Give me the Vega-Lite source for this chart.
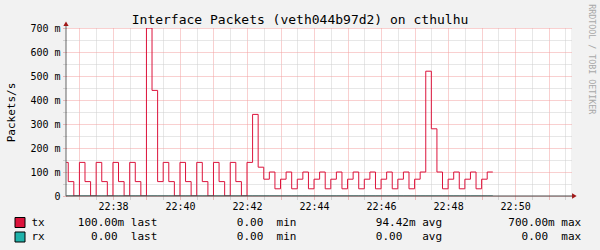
{
  "$schema": "https://vega.github.io/schema/vega-lite/v6.json",
  "width": 505,
  "height": 168,
  "autosize": {"type": "none"},
  "padding": {"left": 66, "top": 28, "right": 29, "bottom": 54},
  "background": "#F2F2F2",
  "title": {"text": "Interface Packets (veth044b97d2) on cthulhu", "font": "DejaVu Sans Mono", "fontSize": 13, "fontWeight": "normal", "color": "#000000", "anchor": "middle", "frame": "group", "dx": -18.5, "dy": 37, "baseline": "alphabetic", "offset": 4},
  "config": {
    "view": {"fill": "#FFFFFF", "stroke": null},
    "font": "DejaVu Sans Mono"
  },
  "data": {"values": [
    {"time": "2024-01-01T22:36:30Z", "tx": 0.14, "rx": 0},
    {"time": "2024-01-01T22:36:40Z", "tx": 0.06, "rx": 0},
    {"time": "2024-01-01T22:36:50Z", "tx": 0, "rx": 0},
    {"time": "2024-01-01T22:37:00Z", "tx": 0.14, "rx": 0},
    {"time": "2024-01-01T22:37:10Z", "tx": 0.06, "rx": 0},
    {"time": "2024-01-01T22:37:20Z", "tx": 0, "rx": 0},
    {"time": "2024-01-01T22:37:30Z", "tx": 0.14, "rx": 0},
    {"time": "2024-01-01T22:37:40Z", "tx": 0.06, "rx": 0},
    {"time": "2024-01-01T22:37:50Z", "tx": 0, "rx": 0},
    {"time": "2024-01-01T22:38:00Z", "tx": 0.14, "rx": 0},
    {"time": "2024-01-01T22:38:10Z", "tx": 0.06, "rx": 0},
    {"time": "2024-01-01T22:38:20Z", "tx": 0, "rx": 0},
    {"time": "2024-01-01T22:38:30Z", "tx": 0.14, "rx": 0},
    {"time": "2024-01-01T22:38:40Z", "tx": 0.06, "rx": 0},
    {"time": "2024-01-01T22:38:50Z", "tx": 0, "rx": 0},
    {"time": "2024-01-01T22:39:00Z", "tx": 0.70, "rx": 0},
    {"time": "2024-01-01T22:39:10Z", "tx": 0.44, "rx": 0},
    {"time": "2024-01-01T22:39:20Z", "tx": 0.06, "rx": 0},
    {"time": "2024-01-01T22:39:30Z", "tx": 0.14, "rx": 0},
    {"time": "2024-01-01T22:39:40Z", "tx": 0.06, "rx": 0},
    {"time": "2024-01-01T22:39:50Z", "tx": 0, "rx": 0},
    {"time": "2024-01-01T22:40:00Z", "tx": 0.14, "rx": 0},
    {"time": "2024-01-01T22:40:10Z", "tx": 0.06, "rx": 0},
    {"time": "2024-01-01T22:40:20Z", "tx": 0, "rx": 0},
    {"time": "2024-01-01T22:40:30Z", "tx": 0.14, "rx": 0},
    {"time": "2024-01-01T22:40:40Z", "tx": 0.06, "rx": 0},
    {"time": "2024-01-01T22:40:50Z", "tx": 0, "rx": 0},
    {"time": "2024-01-01T22:41:00Z", "tx": 0.14, "rx": 0},
    {"time": "2024-01-01T22:41:10Z", "tx": 0.06, "rx": 0},
    {"time": "2024-01-01T22:41:20Z", "tx": 0, "rx": 0},
    {"time": "2024-01-01T22:41:30Z", "tx": 0.14, "rx": 0},
    {"time": "2024-01-01T22:41:40Z", "tx": 0.06, "rx": 0},
    {"time": "2024-01-01T22:41:50Z", "tx": 0, "rx": 0},
    {"time": "2024-01-01T22:42:00Z", "tx": 0.14, "rx": 0},
    {"time": "2024-01-01T22:42:10Z", "tx": 0.34, "rx": 0},
    {"time": "2024-01-01T22:42:20Z", "tx": 0.12, "rx": 0},
    {"time": "2024-01-01T22:42:30Z", "tx": 0.07, "rx": 0},
    {"time": "2024-01-01T22:42:40Z", "tx": 0.10, "rx": 0},
    {"time": "2024-01-01T22:42:50Z", "tx": 0.03, "rx": 0},
    {"time": "2024-01-01T22:43:00Z", "tx": 0.07, "rx": 0},
    {"time": "2024-01-01T22:43:10Z", "tx": 0.10, "rx": 0},
    {"time": "2024-01-01T22:43:20Z", "tx": 0.03, "rx": 0},
    {"time": "2024-01-01T22:43:30Z", "tx": 0.07, "rx": 0},
    {"time": "2024-01-01T22:43:40Z", "tx": 0.10, "rx": 0},
    {"time": "2024-01-01T22:43:50Z", "tx": 0.03, "rx": 0},
    {"time": "2024-01-01T22:44:00Z", "tx": 0.07, "rx": 0},
    {"time": "2024-01-01T22:44:10Z", "tx": 0.10, "rx": 0},
    {"time": "2024-01-01T22:44:20Z", "tx": 0.03, "rx": 0},
    {"time": "2024-01-01T22:44:30Z", "tx": 0.07, "rx": 0},
    {"time": "2024-01-01T22:44:40Z", "tx": 0.10, "rx": 0},
    {"time": "2024-01-01T22:44:50Z", "tx": 0.03, "rx": 0},
    {"time": "2024-01-01T22:45:00Z", "tx": 0.07, "rx": 0},
    {"time": "2024-01-01T22:45:10Z", "tx": 0.10, "rx": 0},
    {"time": "2024-01-01T22:45:20Z", "tx": 0.03, "rx": 0},
    {"time": "2024-01-01T22:45:30Z", "tx": 0.07, "rx": 0},
    {"time": "2024-01-01T22:45:40Z", "tx": 0.10, "rx": 0},
    {"time": "2024-01-01T22:45:50Z", "tx": 0.03, "rx": 0},
    {"time": "2024-01-01T22:46:00Z", "tx": 0.07, "rx": 0},
    {"time": "2024-01-01T22:46:10Z", "tx": 0.10, "rx": 0},
    {"time": "2024-01-01T22:46:20Z", "tx": 0.03, "rx": 0},
    {"time": "2024-01-01T22:46:30Z", "tx": 0.07, "rx": 0},
    {"time": "2024-01-01T22:46:40Z", "tx": 0.10, "rx": 0},
    {"time": "2024-01-01T22:46:50Z", "tx": 0.03, "rx": 0},
    {"time": "2024-01-01T22:47:00Z", "tx": 0.07, "rx": 0},
    {"time": "2024-01-01T22:47:10Z", "tx": 0.10, "rx": 0},
    {"time": "2024-01-01T22:47:20Z", "tx": 0.52, "rx": 0},
    {"time": "2024-01-01T22:47:30Z", "tx": 0.28, "rx": 0},
    {"time": "2024-01-01T22:47:40Z", "tx": 0.10, "rx": 0},
    {"time": "2024-01-01T22:47:50Z", "tx": 0.03, "rx": 0},
    {"time": "2024-01-01T22:48:00Z", "tx": 0.07, "rx": 0},
    {"time": "2024-01-01T22:48:10Z", "tx": 0.10, "rx": 0},
    {"time": "2024-01-01T22:48:20Z", "tx": 0.03, "rx": 0},
    {"time": "2024-01-01T22:48:30Z", "tx": 0.07, "rx": 0},
    {"time": "2024-01-01T22:48:40Z", "tx": 0.10, "rx": 0},
    {"time": "2024-01-01T22:48:50Z", "tx": 0.03, "rx": 0},
    {"time": "2024-01-01T22:49:00Z", "tx": 0.07, "rx": 0},
    {"time": "2024-01-01T22:49:10Z", "tx": 0.10, "rx": 0},
    {"time": "2024-01-01T22:49:20Z", "tx": 0.10, "rx": 0}
  ]},
  "layer": [
    {
      "mark": {"type": "line", "interpolate": "step-after", "color": "#DC143C", "strokeWidth": 1, "clip": true},
      "encoding": {
        "x": {"field": "time", "type": "temporal",
          "scale": {"type": "utc", "domain": [1704148596000, 1704149500000]},
          "axis": {
            "title": null, "domain": false, "tickCount": 100,
            "values": [1704148620000, 1704148650000, 1704148680000, 1704148710000, 1704148740000, 1704148770000, 1704148800000, 1704148830000, 1704148860000, 1704148890000, 1704148920000, 1704148950000, 1704148980000, 1704149010000, 1704149040000, 1704149070000, 1704149100000, 1704149130000, 1704149160000, 1704149190000, 1704149220000, 1704149250000, 1704149280000, 1704149310000, 1704149340000, 1704149370000, 1704149400000, 1704149430000, 1704149460000, 1704149490000],
            "grid": true, "gridDash": [1, 1], "gridWidth": 1,
            "gridColor": {"condition": {"test": "utcseconds(datum.value) == 0", "value": "#F2A0A0"}, "value": "#CFCFCF"},
            "ticks": true, "tickSize": 3, "tickDash": [1, 1],
            "tickColor": {"condition": {"test": "utcseconds(datum.value) == 0", "value": "#E08080"}, "value": "#B0B0B0"},
            "labelExpr": "utcseconds(datum.value) == 0 && utcminutes(datum.value) % 2 == 0 ? utcFormat(datum.value, '%H:%M') : ''",
            "labelFont": "DejaVu Sans Mono", "labelFontSize": 10, "labelColor": "#000000",
            "labelPadding": 2, "labelFlush": false, "labelOverlap": false
          }},
        "y": {"field": "tx", "type": "quantitative",
          "scale": {"domain": [0, 0.7], "nice": false, "zero": true},
          "axis": {
            "title": "Packets/s", "titleFont": "DejaVu Sans Mono", "titleFontSize": 11, "titleFontWeight": "normal", "titleColor": "#000000",
            "titleX": -55, "titleY": 84, "titleAngle": -90, "titleAlign": "center", "titleBaseline": "middle",
            "domain": false, "tickCount": 100,
            "values": [0, 0.05, 0.1, 0.15, 0.2, 0.25, 0.3, 0.35, 0.4, 0.45, 0.5, 0.55, 0.6, 0.65, 0.7],
            "grid": true, "gridDash": [1, 1], "gridWidth": 1,
            "gridColor": {"condition": {"test": "round(datum.value * 1000) % 100 == 0", "value": "#F2A0A0"}, "value": "#CFCFCF"},
            "ticks": true, "tickSize": 3, "tickDash": [1, 1],
            "tickColor": {"condition": {"test": "round(datum.value * 1000) % 100 == 0", "value": "#E08080"}, "value": "#B0B0B0"},
            "labelExpr": "round(datum.value * 1000) % 100 == 0 ? (datum.value == 0 ? '0\u00a0\u00a0' : round(datum.value * 1000) + ' m') : ''",
            "labelFont": "DejaVu Sans Mono", "labelFontSize": 10, "labelColor": "#000000",
            "labelPadding": 3, "labelBaseline": "middle", "labelFlush": false, "labelOverlap": false
          }}
      }
    },
    {
      "data": {"values": [{"axis": "x"}]},
      "mark": {"type": "rule", "color": "#4A4A4A", "strokeWidth": 1},
      "encoding": {
        "x": {"datum": 1704148596000, "type": "temporal"},
        "x2": {"datum": 1704149504000},
        "y": {"datum": 0}
      }
    },
    {
      "mark": {"type": "line", "interpolate": "step-after", "color": "#2A5C57", "strokeWidth": 1, "clip": true},
      "encoding": {
        "x": {"field": "time", "type": "temporal"},
        "y": {"field": "rx", "type": "quantitative"}
      }
    },
    {
      "data": {"values": [{"axis": "y"}]},
      "mark": {"type": "rule", "color": "#666666", "strokeWidth": 1},
      "encoding": {
        "x": {"datum": 1704148596000, "type": "temporal"},
        "y": {"datum": 0},
        "y2": {"datum": 0.715}
      }
    },
    {
      "data": {"values": [{"axis": "y"}]},
      "mark": {"type": "point", "shape": "triangle-up", "filled": true, "color": "#A01818", "size": 28, "opacity": 1},
      "encoding": {
        "x": {"datum": 1704148596000, "type": "temporal"},
        "y": {"datum": 0.718}
      }
    },
    {
      "data": {"values": [{"axis": "x"}]},
      "mark": {"type": "point", "shape": "triangle-right", "filled": true, "color": "#A01818", "size": 28, "opacity": 1},
      "encoding": {
        "x": {"datum": 1704149506000, "type": "temporal"},
        "y": {"datum": 0}
      }
    },
    {
      "data": {"values": [{"note": "RRDTOOL / TOBI OETIKER"}]},
      "mark": {"type": "text", "angle": 90, "align": "center", "baseline": "middle", "font": "DejaVu Sans Mono", "fontSize": 8.3, "color": "#A8A8A8"},
      "encoding": {
        "x": {"datum": 1704149535000, "type": "temporal"},
        "y": {"datum": 0.57},
        "text": {"field": "note"}
      }
    },
    {
      "transform": [
        {"fold": ["tx", "rx"], "as": ["series", "v"]},
        {"filter": "datum.v < 0"}
      ],
      "mark": {"type": "point", "shape": "square", "filled": true, "stroke": "#000000", "strokeWidth": 1, "opacity": 1},
      "encoding": {
        "x": {"field": "time", "type": "temporal"},
        "y": {"field": "v", "type": "quantitative"},
        "fill": {"field": "series", "type": "nominal",
          "scale": {"domain": ["tx", "rx"], "range": ["#DC143C", "#20B2AA"]},
          "legend": {
            "orient": "none", "legendX": -51.5, "legendY": 189, "title": null, "direction": "vertical",
            "padding": 0, "rowPadding": -0.5, "offset": 0,
            "symbolType": "square", "symbolSize": 100, "symbolStrokeColor": "#000000", "symbolStrokeWidth": 1, "symbolOpacity": 1,
            "labelFont": "DejaVu Sans Mono", "labelFontSize": 11, "labelColor": "#000000", "labelLimit": 1000, "labelOffset": 6,
            "labelExpr": "datum.label == 'tx' ? 'tx\u00a0\u00a0\u00a0\u00a0\u00a0100.00m\u00a0last\u00a0\u00a0\u00a0\u00a0\u00a0\u00a0\u00a0\u00a0\u00a0\u00a0\u00a0\u00a00.00\u00a0\u00a0min\u00a0\u00a0\u00a0\u00a0\u00a0\u00a0\u00a0\u00a0\u00a0\u00a0\u00a0\u00a094.42m\u00a0avg\u00a0\u00a0\u00a0\u00a0\u00a0\u00a0\u00a0\u00a0\u00a0\u00a0700.00m\u00a0max' : 'rx\u00a0\u00a0\u00a0\u00a0\u00a0\u00a0\u00a00.00\u00a0\u00a0last\u00a0\u00a0\u00a0\u00a0\u00a0\u00a0\u00a0\u00a0\u00a0\u00a0\u00a0\u00a00.00\u00a0\u00a0min\u00a0\u00a0\u00a0\u00a0\u00a0\u00a0\u00a0\u00a0\u00a0\u00a0\u00a0\u00a00.00\u00a0\u00a0\u00a0avg\u00a0\u00a0\u00a0\u00a0\u00a0\u00a0\u00a0\u00a0\u00a0\u00a0\u00a0\u00a00.00\u00a0\u00a0max'"
          }}
      }
    }
  ]
}
